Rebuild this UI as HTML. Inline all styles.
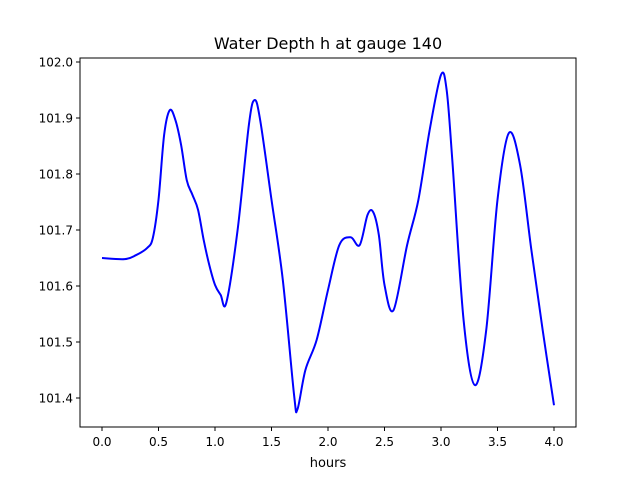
<!DOCTYPE html>
<html><head><meta charset="utf-8"><style>
body{margin:0;background:#fff;}
svg text{font-family:"DejaVu Sans","Liberation Sans",sans-serif;}
</style></head><body>
<svg id="chart" width="640" height="480" xmlns="http://www.w3.org/2000/svg">
<rect width="640" height="480" fill="#fff"/>
<text x="328" y="49" font-size="16" text-anchor="middle">Water Depth h at gauge 140</text>
<g id="ticks"></g>
<path id="line" fill="none" stroke="#0000ff" stroke-width="2"/>
<rect x="80" y="58" width="496" height="369" fill="none" stroke="#000" stroke-width="1"/>
<text x="328" y="467" font-size="13" text-anchor="middle">hours</text>
</svg>
<script>
const hours=[0,0.2,0.3,0.4,0.45,0.5,0.55,0.6,0.65,0.7,0.75,0.8,0.85,0.9,0.95,1.0,1.05,1.1,1.2,1.3,1.35,1.4,1.5,1.6,1.7,1.73,1.8,1.9,2.0,2.1,2.2,2.28,2.35,2.4,2.45,2.5,2.58,2.7,2.8,2.9,3.0,3.05,3.1,3.2,3.3,3.4,3.5,3.6,3.7,3.8,3.9,4.0];
const depth=[101.65,101.648,101.655,101.668,101.686,101.754,101.870,101.914,101.896,101.852,101.789,101.763,101.736,101.682,101.637,101.602,101.584,101.570,101.700,101.888,101.932,101.896,101.754,101.611,101.405,101.380,101.450,101.504,101.593,101.673,101.687,101.673,101.727,101.732,101.691,101.602,101.557,101.673,101.754,101.879,101.977,101.950,101.825,101.539,101.423,101.521,101.754,101.873,101.816,101.664,101.521,101.387];
const xTicks=[0,0.5,1,1.5,2,2.5,3,3.5,4];
const yTicks=[101.4,101.5,101.6,101.7,101.8,101.9,102.0];
const X=v=>102+v*113;
const Y=v=>62+(102-v)*560;
const NS="http://www.w3.org/2000/svg";
const g=document.getElementById('ticks');
function mk(t,a){const e=document.createElementNS(NS,t);for(const k in a)e.setAttribute(k,a[k]);g.appendChild(e);return e;}
xTicks.forEach(v=>{
 const l=mk('line',{x1:X(v),x2:X(v),y1:427,y2:431,stroke:'#000'});
 
 
 const t=mk('text',{x:X(v),y:446,'font-size':12,'text-anchor':'middle'});
 
 
 t.textContent=v.toFixed(1);
});
yTicks.forEach(v=>{
 const l=mk('line',{x1:76,x2:80,y1:Y(v),y2:Y(v),stroke:'#000'});
 
 
 const t=mk('text',{x:73,y:Y(v)+4.5,'font-size':12,'text-anchor':'end'});
 
 
 t.textContent=v.toFixed(1);
});
const P=hours.map((h,i)=>[X(h),Y(depth[i])]);
let d='M'+P[0][0]+','+P[0][1];
for(let i=0;i<P.length-1;i++){
 const p0=P[Math.max(i-1,0)],p1=P[i],p2=P[i+1],p3=P[Math.min(i+2,P.length-1)];
 const c1=[p1[0]+(p2[0]-p0[0])/6,p1[1]+(p2[1]-p0[1])/6];
 const c2=[p2[0]-(p3[0]-p1[0])/6,p2[1]-(p3[1]-p1[1])/6];
 d+=` C${c1[0]},${c1[1]} ${c2[0]},${c2[1]} ${p2[0]},${p2[1]}`;
}
document.getElementById('line').setAttribute('d',d);
</script>
</body></html>
